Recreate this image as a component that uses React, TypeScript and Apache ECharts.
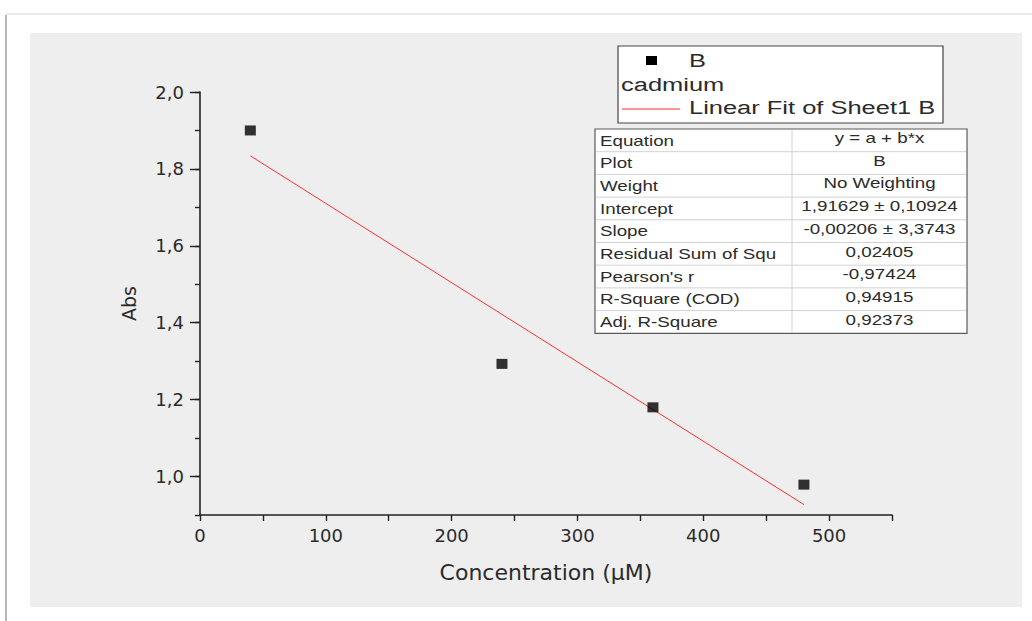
import React, { useEffect, useRef } from "react";
import * as echarts from "echarts";

// Data
const concentration = [40, 240, 360, 480];
const absorbance = [1.9, 1.293, 1.18, 0.979];
const fitX = [40, 480];
const fitY = [1.834, 0.927];
const yMajorTicks = [1.0, 1.2, 1.4, 1.6, 1.8, 2.0];
const legendNames = ["B", "cadmium", "Linear Fit of Sheet1 B"];
const tableLabels = [
  "Equation",
  "Plot",
  "Weight",
  "Intercept",
  "Slope",
  "Residual Sum of Squ",
  "Pearson's r",
  "R-Square (COD)",
  "Adj. R-Square",
];
const tableValues = [
  "y = a + b*x",
  "B",
  "No Weighting",
  "1,91629 ± 0,10924",
  "-0,00206 ± 3,3743",
  "0,02405",
  "-0,97424",
  "0,94915",
  "0,92373",
];

const FONT = "'Liberation Sans', Arial, sans-serif";
const AXFONT = "'DejaVu Sans', 'Liberation Sans', sans-serif";
const TXT = "#2b2b2b";
const STRETCH = 1.34;

export default function App() {
  const ref = useRef<HTMLDivElement>(null);
  useEffect(() => {
    if (!ref.current) return;
    const chart = echarts.init(ref.current, undefined, { renderer: "svg" });

    // table geometry
    const tL = 595, tT = 129, tR = 967, tDiv = 792, rowH = 22.7;
    const tB = tT + rowH * tableLabels.length;
    const tableEls: any[] = [];
    tableEls.push({
      type: "rect", z: 50,
      shape: { x: tL, y: tT, width: tR - tL, height: tB - tT },
      style: { fill: "#ffffff", stroke: "#5a5a5a", lineWidth: 1.2 },
    });
    for (let i = 1; i < tableLabels.length; i++) {
      tableEls.push({
        type: "line", z: 51,
        shape: { x1: tL + 1, y1: tT + rowH * i, x2: tR - 1, y2: tT + rowH * i },
        style: { stroke: "#d2d2d2", lineWidth: 1 },
      });
    }
    tableEls.push({
      type: "line", z: 51,
      shape: { x1: tDiv, y1: tT + 1, x2: tDiv, y2: tB - 1 },
      style: { stroke: "#d2d2d2", lineWidth: 1 },
    });
    tableLabels.forEach((lab, i) => {
      tableEls.push({
        type: "text", z: 52, x: tL + 5, y: tT + rowH * i + rowH / 2 + 0.5, scaleX: STRETCH,
        style: { text: lab, fill: TXT, font: `14px ${FONT}`, textAlign: "left", textVerticalAlign: "middle" },
      });
      tableEls.push({
        type: "text", z: 52, x: (tDiv + tR) / 2, y: tT + rowH * i + rowH / 2 - 2, scaleX: STRETCH,
        style: { text: tableValues[i], fill: TXT, font: `14px ${FONT}`, textAlign: "center", textVerticalAlign: "middle" },
      });
    });

    const legendEls: any[] = [
      {
        type: "rect", z: 50,
        shape: { x: 618, y: 46, width: 325, height: 77 },
        style: { fill: "#ffffff", stroke: "#444444", lineWidth: 1.2 },
      },
      {
        type: "rect", z: 51,
        shape: { x: 646, y: 56, width: 11, height: 9 },
        style: { fill: "#000000" },
      },
      {
        type: "text", z: 51, x: 689, y: 61, scaleX: STRETCH,
        style: { text: legendNames[0], fill: TXT, font: `19px ${FONT}`, textAlign: "left", textVerticalAlign: "middle" },
      },
      {
        type: "text", z: 51, x: 621, y: 85, scaleX: STRETCH,
        style: { text: legendNames[1], fill: TXT, font: `19px ${FONT}`, textAlign: "left", textVerticalAlign: "middle" },
      },
      {
        type: "line", z: 51,
        shape: { x1: 622, y1: 109, x2: 680, y2: 109 },
        style: { stroke: "#ff2a2a", lineWidth: 1 },
      },
      {
        type: "text", z: 51, x: 689, y: 108, scaleX: STRETCH,
        style: { text: legendNames[2], fill: TXT, font: `19px ${FONT}`, textAlign: "left", textVerticalAlign: "middle" },
      },
    ];

    const bgEls: any[] = [
      { type: "rect", z: -10, shape: { x: 0, y: 0, width: 1032, height: 621 }, style: { fill: "#ffffff" } },
      { type: "line", z: -9, shape: { x1: 6, y1: 15, x2: 6, y2: 621 }, style: { stroke: "#b8b8b8", lineWidth: 2 } },
      { type: "line", z: -9, shape: { x1: 6, y1: 14, x2: 1032, y2: 14 }, style: { stroke: "#e6e6e6", lineWidth: 1.5 } },
      { type: "rect", z: -8, shape: { x: 30, y: 33, width: 992, height: 574 }, style: { fill: "#eeeeee" } },
    ];

    chart.setOption({
      animation: false,
      textStyle: { fontFamily: AXFONT },
      grid: { left: 200, top: 92, right: 140, bottom: 106, containLabel: false },
      xAxis: {
        type: "value",
        min: 0,
        max: 550,
        interval: 50,
        name: "Concentration (µM)",
        nameLocation: "middle",
        nameGap: 46,
        nameTextStyle: { fontSize: 22, color: TXT, fontFamily: AXFONT },
        axisLine: { show: true, onZero: false, lineStyle: { color: "#222", width: 1.6 } },
        axisTick: { show: true, length: 6, lineStyle: { color: "#222", width: 1.4 } },
        splitLine: { show: false },
        axisLabel: {
          fontSize: 18,
          color: TXT,
          fontFamily: AXFONT,
          margin: 11,
          formatter: (v: number) => (Math.round(v) % 100 === 0 && v <= 500 ? String(Math.round(v)) : ""),
        },
      },
      yAxis: [
        {
          type: "value",
          min: 0.9,
          max: 2.0,
          interval: 0.1,
          name: "Abs",
          nameLocation: "middle",
          nameGap: 62,
          nameRotate: 90,
          nameTextStyle: { fontSize: 19, color: TXT, fontFamily: AXFONT },
          axisLine: { show: true, onZero: false, lineStyle: { color: "#222", width: 1.6 } },
          axisTick: { show: true, length: 5, lineStyle: { color: "#222", width: 1.4 } },
          splitLine: { show: false },
          axisLabel: {
            fontSize: 18,
            color: TXT,
            fontFamily: AXFONT,
            margin: 16,
            formatter: (v: number) =>
              Math.round(v * 10) % 2 === 0 ? (Math.round(v * 10) / 10).toFixed(1).replace(".", ",") : "",
          },
        },
        {
          type: "value",
          min: 0.9,
          max: 2.0,
          interval: 0.1,
          position: "left",
          axisLine: { show: false },
          axisTick: { show: true, length: 10, customValues: yMajorTicks, lineStyle: { color: "#222", width: 1.4 } },
          axisLabel: { show: false },
          splitLine: { show: false },
        },
      ],
      series: [
        {
          type: "scatter",
          name: legendNames[0],
          data: concentration.map((x, i) => [x, absorbance[i]]),
          symbol: "rect",
          symbolSize: [11, 10],
          itemStyle: { color: "#000000" },
          z: 5,
        },
        {
          type: "line",
          name: legendNames[2],
          data: fitX.map((x, i) => [x, fitY[i]]),
          showSymbol: false,
          symbol: "none",
          lineStyle: { color: "#ff3030", width: 1 },
          z: 4,
        },
      ],
      graphic: [...bgEls, ...legendEls, ...tableEls],
    });
    return () => chart.dispose();
  }, []);
  return (
    <div
      ref={ref}
      style={{ position: "absolute", left: 0, top: 0, width: 1032, height: 621 }}
    />
  );
}
